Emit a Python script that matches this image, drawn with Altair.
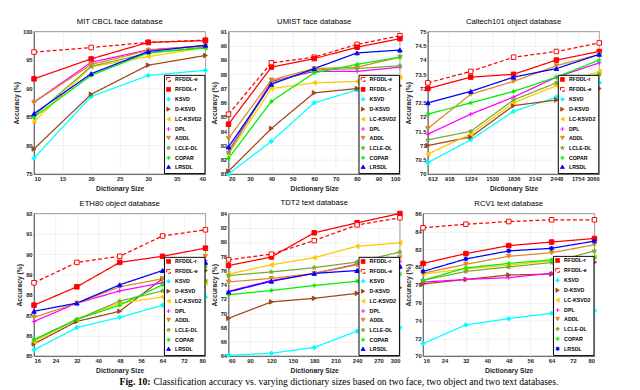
import math
import altair as alt
import pandas as pd

# ---------------- data ----------------
series_names = ["RFDDL-e", "RFDDL-r", "KSVD", "D-KSVD", "LC-KSVD2", "DPL",
                "ADDL", "LCLE-DL", "COPAR", "LRSDL"]

mit_x = [10, 20, 30, 40]
mit_y = {
    "RFDDL-e": [96.4, 97.2, 98.1, 98.5],
    "RFDDL-r": [91.7, 95.2, 98.1, 98.4],
    "KSVD": [77.8, 88.6, 92.3, 93.2],
    "D-KSVD": [79.4, 89.0, 94.1, 95.8],
    "LC-KSVD2": [84.2, 93.8, 95.6, 97.2],
    "DPL": [87.6, 94.6, 96.8, 97.5],
    "ADDL": [87.6, 94.2, 96.7, 97.5],
    "LCLE-DL": [85.2, 93.9, 96.2, 97.3],
    "COPAR": [85.0, 92.3, 96.3, 97.1],
    "LRSDL": [85.6, 92.6, 96.5, 97.6],
}

umist_x = [20, 40, 60, 80, 100]
umist_y = {
    "RFDDL-e": [85.2, 88.8, 89.2, 90.1, 90.7],
    "RFDDL-r": [84.5, 88.5, 89.1, 89.9, 90.5],
    "KSVD": [81.0, 83.3, 86.0, 86.9, 87.8],
    "D-KSVD": [81.2, 84.2, 86.7, 87.0, 87.2],
    "LC-KSVD2": [82.4, 87.0, 87.4, 87.5, 87.8],
    "DPL": [82.6, 87.5, 88.2, 88.2, 88.5],
    "ADDL": [83.5, 87.6, 88.4, 88.5, 89.2],
    "LCLE-DL": [82.5, 87.4, 88.3, 88.4, 88.6],
    "COPAR": [82.1, 86.1, 88.1, 88.7, 89.2],
    "LRSDL": [82.9, 87.3, 88.4, 89.5, 89.7],
}

caltech_x = [612, 1224, 1836, 2448, 3060]
caltech_y = {
    "RFDDL-r": [73.0, 73.4, 73.5, 74.0, 74.3],
    "RFDDL-e": [73.2, 73.6, 74.1, 74.3, 74.6],
    "KSVD": [70.4, 71.2, 72.2, 72.7, 73.2],
    "D-KSVD": [71.0, 71.3, 72.4, 72.6, 73.0],
    "LC-KSVD2": [70.7, 71.4, 72.5, 73.1, 73.6],
    "DPL": [71.4, 72.1, 72.7, 73.4, 73.9],
    "ADDL": [71.6, 72.8, 73.25, 73.8, 74.2],
    "LCLE-DL": [71.2, 71.5, 72.6, 73.2, 73.5],
    "COPAR": [72.1, 72.5, 72.9, 73.4, 74.0],
    "LRSDL": [72.5, 72.9, 73.4, 73.7, 74.2],
}

eth_x = [16, 32, 48, 64, 80]
eth_y = {
    "RFDDL-r": [87.5, 88.4, 89.6, 89.9, 90.3],
    "RFDDL-e": [88.6, 89.6, 89.9, 90.9, 91.2],
    "KSVD": [85.3, 86.4, 86.9, 87.5, 87.9],
    "D-KSVD": [85.6, 86.7, 87.2, 88.8, 89.2],
    "LC-KSVD2": [85.7, 86.8, 87.6, 87.9, 88.6],
    "DPL": [86.7, 87.6, 88.2, 88.6, 89.7],
    "ADDL": [86.9, 87.6, 88.4, 88.8, 89.9],
    "LCLE-DL": [85.8, 86.8, 87.7, 88.2, 88.7],
    "COPAR": [85.8, 86.8, 87.5, 88.5, 89.4],
    "LRSDL": [87.2, 87.6, 88.5, 89.2, 89.6],
}

tdt_x = [60, 120, 180, 240, 300]
tdt_y = {
    "RFDDL-r": [76.7, 77.9, 81.3, 82.7, 84.0],
    "RFDDL-e": [77.5, 78.3, 80.2, 82.4, 83.4],
    "KSVD": [64.1, 64.4, 65.2, 67.5, 68.0],
    "D-KSVD": [69.3, 71.6, 72.1, 72.8, 73.6],
    "LC-KSVD2": [75.5, 76.8, 77.8, 79.4, 79.9],
    "DPL": [73.1, 74.6, 75.6, 76.9, 77.3],
    "ADDL": [74.4, 74.9, 75.6, 76.8, 77.8],
    "LCLE-DL": [75.3, 75.8, 76.4, 77.2, 78.6],
    "COPAR": [72.6, 73.2, 73.9, 74.5, 75.5],
    "LRSDL": [73.0, 74.5, 75.6, 76.0, 76.6],
}

rcv_x = [16, 32, 48, 64, 80]
rcv_y = {
    "RFDDL-r": [80.4, 81.5, 82.4, 82.8, 83.2],
    "RFDDL-e": [84.4, 84.8, 85.1, 85.3, 85.3],
    "KSVD": [71.4, 73.5, 74.2, 74.8, 75.1],
    "D-KSVD": [78.1, 78.6, 79.1, 79.2, 80.5],
    "LC-KSVD2": [79.2, 79.8, 80.2, 80.7, 81.1],
    "DPL": [78.3, 78.6, 78.8, 79.3, 80.6],
    "ADDL": [79.3, 80.3, 81.2, 81.6, 82.5],
    "LCLE-DL": [78.5, 79.5, 80.0, 80.5, 81.8],
    "COPAR": [78.5, 79.9, 80.4, 80.8, 81.1],
    "LRSDL": [79.5, 80.9, 81.8, 82.1, 82.9],
}

caption_head = ["Fig. 10:"]
caption_body = ["Classification accuracy vs. varying dictionary sizes based on "
                "two face, two object and two text databases."]

# ---------------- styles ----------------
def star_path(n, r_in):
    pts = []
    for i in range(2 * n):
        r = 1.0 if i % 2 == 0 else r_in
        a = math.radians(-90 + 180.0 / n * i)
        pts.append(f"{r * math.cos(a):.3f},{r * math.sin(a):.3f}")
    return "M" + "L".join(pts) + "Z"

PENTAGRAM = star_path(5, 0.42)
HEXAGRAM = star_path(6, 0.55)
PLUS = "M-1,0H1M0,-1V1"
ASTERISK = "M-1,0H1M0,-1V1M-0.7,-0.7L0.7,0.7M-0.7,0.7L0.7,-0.7"

colors = {
    "RFDDL-e": "#FF0000", "RFDDL-r": "#FF0000", "KSVD": "#00FFFF",
    "D-KSVD": "#A0461A", "LC-KSVD2": "#FFC800", "DPL": "#FF00FF",
    "ADDL": "#DA8A22", "LCLE-DL": "#77AC30", "COPAR": "#00EE00",
    "LRSDL": "#0000FF",
}
shapes = {
    "RFDDL-e": "square", "RFDDL-r": "square", "KSVD": "diamond",
    "D-KSVD": "triangle-right", "LC-KSVD2": "triangle-left", "DPL": PLUS,
    "ADDL": "triangle-down", "LCLE-DL": PENTAGRAM, "COPAR": ASTERISK,
    "LRSDL": "triangle-up",
}

FONT = "Liberation Sans"
INDEP = dict(stroke="independent", fill="independent", shape="independent",
             strokeDash="independent", x="independent", y="independent")
INDEP_LEG = dict(stroke="independent", fill="independent", shape="independent",
                 strokeDash="independent")
W, H = 178, 148


def panel(title, xs, ys, ydom, ystep, xticks, yfmt, xlabel_expr=None,
          lrsdl_shape=None):
    order = list(ys.keys())
    rows = []
    for s in order:
        for xv, yv in zip(xs, ys[s]):
            rows.append({"x": xv, "y": yv, "s": s})
    df = pd.DataFrame(rows)
    shp = dict(shapes)
    if lrsdl_shape:
        shp["LRSDL"] = lrsdl_shape
    stroke_scale = alt.Scale(domain=order, range=[colors[s] for s in order])
    fill_scale = alt.Scale(domain=order,
                           range=["#FFFFFF" if s == "RFDDL-e" else colors[s] for s in order])
    shape_scale = alt.Scale(domain=order, range=[shp[s] for s in order])
    dash_scale = alt.Scale(domain=order,
                           range=[[4, 2.5] if s == "RFDDL-e" else [1, 0] for s in order])
    n = int(round((ydom[1] - ydom[0]) / ystep))
    yticks = [round(ydom[0] + i * ystep, 3) for i in range(n + 1)]
    leg = alt.Legend(title=None, orient="bottom-right", offset=1,
                     fillColor="white", strokeColor="black", padding=2,
                     labelFontSize=5.5, labelFontWeight="bold", labelFont=FONT,
                     symbolSize=16, symbolStrokeWidth=1, rowPadding=1.3,
                     labelOffset=4)
    if xlabel_expr:
        xaxis = alt.Axis(values=xticks, title="Dictionary Size", format="d",
                         labelExpr=xlabel_expr)
    else:
        xaxis = alt.Axis(values=xticks, title="Dictionary Size", format="d")
    base = alt.Chart(df).encode(
        x=alt.X("x:Q", scale=alt.Scale(domain=[xticks[0], xticks[-1]], nice=False, zero=False),
                axis=xaxis),
        y=alt.Y("y:Q", scale=alt.Scale(domain=ydom, nice=False, zero=False),
                axis=alt.Axis(values=yticks, title="Accuracy (%)", format=yfmt)),
    )
    lines = base.mark_line(strokeWidth=1.3).encode(
        stroke=alt.Stroke("s:N", scale=stroke_scale, legend=leg),
        strokeDash=alt.StrokeDash("s:N", scale=dash_scale, legend=None),
    )
    points = base.mark_point(filled=True, size=22, strokeWidth=1, opacity=1).encode(
        stroke=alt.Stroke("s:N", scale=stroke_scale, legend=leg),
        fill=alt.Fill("s:N", scale=fill_scale, legend=leg),
        shape=alt.Shape("s:N", scale=shape_scale, legend=leg),
    )
    return alt.layer(lines, points).properties(
        width=W, height=H,
        title=alt.TitleParams(title, fontSize=8, fontWeight="normal", font=FONT, offset=3),
    )


p1 = panel("MIT CBCL face database", mit_x, mit_y, [75, 100], 5,
           [10, 15, 20, 25, 30, 35, 40], "d")
p2 = panel("UMIST face database", umist_x, umist_y, [81, 91], 1,
           [20, 30, 40, 50, 60, 70, 80, 90, 100], "d")
p3 = panel("Caltech101 object database", caltech_x, caltech_y, [70, 75], 0.5,
           [612, 918, 1224, 1530, 1836, 2142, 2448, 2754, 3060], ".1~f",
           xlabel_expr="datum.value == 2754 ? '1754' : datum.label")
p4 = panel("ETH80 object database", eth_x, eth_y, [85, 92], 1,
           [16, 24, 32, 40, 48, 56, 64, 72, 80], "d")
p5 = panel("TDT2 text database", tdt_x, tdt_y, [64, 84], 2,
           [60, 90, 120, 150, 180, 210, 240, 270, 300], "d")
p6 = panel("RCV1 text database", rcv_x, rcv_y, [70, 86], 2,
           [16, 24, 32, 40, 48, 56, 64, 72, 80], "d", lrsdl_shape=HEXAGRAM)

row1 = alt.hconcat(p1, p2, p3, spacing=0).resolve_scale(**INDEP).resolve_legend(**INDEP_LEG)
row2 = alt.hconcat(p4, p5, p6, spacing=0).resolve_scale(**INDEP).resolve_legend(**INDEP_LEG)
grid = alt.vconcat(row1, row2, spacing=6).resolve_scale(**INDEP).resolve_legend(**INDEP_LEG)

cap_head = alt.Chart(pd.DataFrame({"t": caption_head})).mark_text(
    font="Liberation Serif", fontSize=10, fontWeight="bold", color="black",
    align="right", baseline="middle",
).encode(text="t:N", x=alt.value(121), y=alt.value(5))
cap_body = alt.Chart(pd.DataFrame({"t": caption_body})).mark_text(
    font="Liberation Serif", fontSize=10, color="black",
    align="left", baseline="middle",
).encode(text="t:N", x=alt.value(124), y=alt.value(5))
cap = alt.layer(cap_head, cap_body).properties(
    width=620, height=10, view=alt.ViewBackground(stroke="transparent"))

chart = alt.vconcat(grid, cap, spacing=2).resolve_scale(**INDEP).resolve_legend(
    **INDEP_LEG).properties(
    padding={"left": 4, "top": 2, "right": 0, "bottom": 0},
).configure_axis(
    labelFont=FONT, labelFontSize=6, labelFontWeight="bold", labelColor="#262626",
    titleFont=FONT, titleFontSize=7, titleFontWeight="bold", titleColor="#262626",
    gridColor="#E6E6E6", gridWidth=0.6, domainColor="#262626", domainWidth=0.6,
    ticks=False, labelPadding=2, titlePadding=3,
).configure_view(
    stroke="#262626", strokeWidth=0.6,
)

chart.save("out.html", embed_options={"renderer": "svg", "actions": False})
